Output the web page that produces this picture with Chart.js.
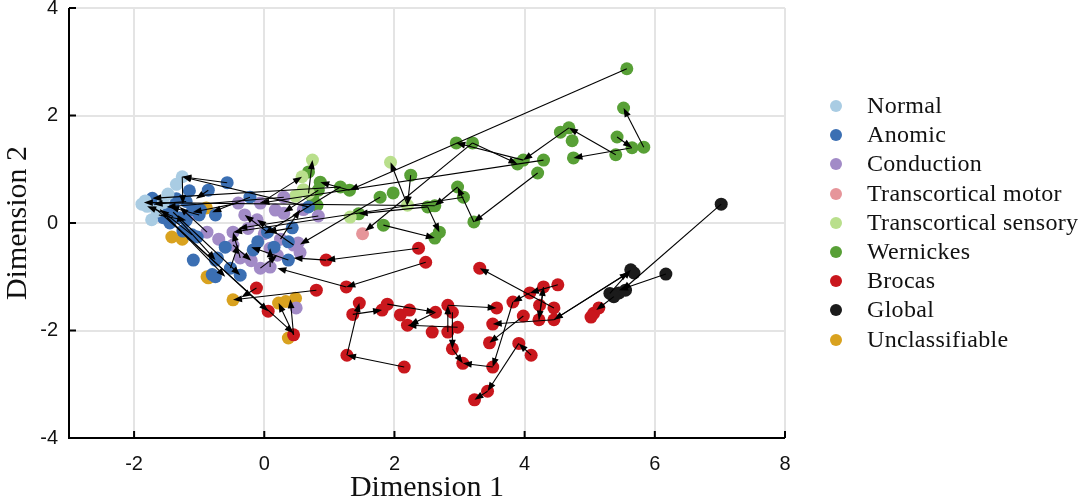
<!DOCTYPE html>
<html>
<head>
<meta charset="utf-8">
<script src="https://cdn.jsdelivr.net/npm/chart.js@4.4.1/dist/chart.umd.min.js"></script>
<style>
  html, body { margin: 0; padding: 0; background: #fff; }
  #wrap { position: relative; width: 1084px; height: 503px; }
  #legend { position: absolute; left: 828px; top: 91px; font-family: "Liberation Serif", "DejaVu Serif", serif; font-size: 24px; letter-spacing: 0.3px; color: #111; }
  #legend div { height: 29.2px; line-height: 29.2px; white-space: nowrap; }
  #legend span.dot { display: inline-block; width: 12px; height: 12px; border-radius: 50%; margin: 0 25px 0 2px; vertical-align: 1px; }
</style>
</head>
<body>
<div id="wrap">
  <canvas id="mapChart" width="1084" height="503"></canvas>
  <div id="legend"></div>
</div>
<script>
// ---- data ----
const categories = ["Normal", "Anomic", "Conduction", "Transcortical motor",
    "Transcortical sensory", "Wernickes", "Brocas", "Global", "Unclassifiable"];

const normalPts = [[-1.83, 0.41], [-1.80, 0.31], [-1.26, 0.86], [-1.48, 0.54], [-1.73, 0.06],
    [-1.65, 0.22], [-1.55, 0.38], [-1.35, 0.72], [-1.88, 0.35]];

const anomicPts = [[-1.72, 0.46], [-1.60, 0.35], [-1.50, 0.20], [-1.40, 0.30], [-1.30, 0.10],
    [-1.20, 0.40], [-1.10, 0.25], [-1.00, 0.15], [-0.57, 0.75], [-0.86, 0.61], [-0.22, 0.48],
    [-1.11, -0.22], [-1.03, -0.26], [-1.09, -0.69], [-0.75, -0.69], [-0.52, -0.84], [-0.37, -0.97],
    [-0.75, -1.00], [-0.80, -0.96], [0.43, -0.09], [0.05, -0.17], [0.37, -0.35], [0.37, -0.69],
    [-0.17, -0.50], [-0.72, -0.65], [-0.60, -0.45], [0.68, 0.30], [-0.98, 0.24], [-0.75, 0.15],
    [-1.45, 0.00], [-1.25, -0.15], [-1.55, 0.10], [-1.35, 0.45], [-1.15, 0.60], [-0.10, -0.35],
    [0.15, -0.45], [-1.62, 0.15], [-1.40, 0.12], [-1.20, 0.05]];

const conductionPts = [[-0.40, 0.37], [-0.06, 0.37], [0.17, 0.24], [0.30, 0.48], [0.83, 0.13],
    [-0.11, 0.06], [-0.48, -0.17], [-0.48, -0.41], [-0.37, -0.65], [0.09, -0.47], [0.45, -0.41],
    [0.52, -0.37], [0.09, -0.82], [-0.06, -0.84], [0.20, -0.60], [-0.88, -0.17], [-1.14, 0.15],
    [0.49, -1.58], [0.00, -0.20], [-0.25, -0.10], [-0.30, 0.15], [0.60, 0.25], [0.25, -0.30],
    [-0.20, -0.70], [0.30, 0.18], [0.55, -0.55], [-0.70, -0.30]];

const tcMotorPts = [[1.51, -0.20]];

const tcSensoryPts = [[0.74, 1.17], [1.94, 1.13], [2.20, 0.33], [1.32, 0.11], [0.58, 0.86],
    [0.60, 0.62], [0.68, 0.55], [0.48, 0.50]];

const wernickesPts = [[5.57, 2.87], [5.52, 2.14], [5.83, 1.41], [5.65, 1.40], [5.42, 1.60],
    [5.40, 1.27], [4.75, 1.21], [4.68, 1.77], [4.55, 1.69], [4.73, 1.53], [4.29, 1.17],
    [4.20, 0.93], [3.98, 1.17], [3.89, 1.10], [3.20, 1.49], [2.95, 1.49], [2.97, 0.67],
    [3.06, 0.48], [3.22, 0.02], [2.69, -0.17], [2.62, -0.28], [2.51, 0.30], [2.62, 0.32],
    [2.25, 0.89], [1.98, 0.56], [1.83, -0.04], [1.78, 0.48], [1.31, 0.61], [1.17, 0.67],
    [0.86, 0.76], [0.81, 0.33], [0.83, 0.61], [0.68, 0.95], [1.45, 0.17], [0.75, 0.45]];

const brocasPts = [[2.37, -0.47], [2.48, -0.73], [0.95, -0.69], [1.26, -1.19], [0.80, -1.25],
    [-0.12, -1.21], [0.06, -1.64], [0.45, -2.08], [1.46, -1.49], [1.36, -1.70], [1.27, -2.46],
    [2.15, -2.68], [1.81, -1.62], [1.89, -1.51], [2.09, -1.71], [2.23, -1.62], [2.20, -1.90],
    [2.63, -1.66], [2.58, -2.03], [2.82, -1.53], [2.89, -1.66], [2.82, -2.03], [2.97, -1.94],
    [2.89, -2.34], [3.05, -2.61], [3.51, -2.68], [3.57, -1.58], [3.51, -1.88], [3.46, -2.23],
    [3.31, -0.84], [3.43, -3.13], [3.23, -3.29], [3.82, -1.47], [3.98, -1.73], [4.08, -1.30],
    [4.29, -1.19], [4.51, -1.15], [4.23, -1.53], [4.22, -1.80], [4.45, -1.58], [4.45, -1.80],
    [3.91, -2.24], [4.10, -2.46], [5.06, -1.68], [5.14, -1.58], [5.02, -1.75]];

const globalPts = [[7.02, 0.35], [6.17, -0.95], [5.63, -0.87], [5.68, -0.93], [5.55, -1.25],
    [5.45, -1.30], [5.31, -1.31], [5.37, -1.37]];

const unclassPts = [[-0.48, -1.43], [0.22, -1.49], [0.33, -1.46], [0.48, -1.40], [0.37, -2.14],
    [-0.88, -1.00], [-1.42, -0.26], [-1.26, -0.30], [-0.89, 0.28], [-0.86, -1.02]];

// each arrow: [fromX, fromY, toX, toY]
const arrows = [
    [5.57, 2.87, 1.31, 0.61], [5.83, 1.41, 5.52, 2.14], [5.42, 1.60, 5.65, 1.40],
    [5.40, 1.27, 4.68, 1.77], [5.65, 1.40, 4.75, 1.21], [4.68, 1.77, 3.98, 1.17],
    [3.98, 1.17, 2.95, 1.49], [3.20, 1.49, 3.89, 1.10], [4.20, 0.93, 3.22, 0.02],
    [3.20, 1.49, 1.55, -0.15], [4.29, 1.17, -0.06, 0.37], [3.22, 0.02, 2.97, 0.67],
    [2.97, 0.67, 2.62, 0.32], [2.51, 0.30, 2.69, -0.17], [1.83, -0.04, 2.62, -0.28],
    [2.25, 0.89, 2.20, 0.33], [2.20, 0.33, 1.94, 1.13], [2.51, 0.30, 1.45, 0.17],
    [1.31, 0.61, 0.86, 0.76], [3.06, 0.48, -0.48, -0.17], [1.78, 0.48, 0.55, -0.40],
    [2.62, 0.32, -1.85, 0.38], [1.17, 0.67, -1.72, 0.46], [0.68, 0.55, 0.74, 1.17],
    [-0.06, 0.37, 0.58, 0.86], [0.83, 0.61, 0.30, 0.20], [1.17, 0.67, 0.00, -0.20],
    [2.37, -0.47, 0.95, -0.69], [2.48, -0.73, 1.26, -1.19], [1.26, -1.19, 0.20, -0.84],
    [0.80, -1.25, -0.48, -1.43], [-0.12, -1.21, -0.35, -1.38], [0.45, -2.08, 0.22, -1.49],
    [0.45, -2.08, 0.40, -1.42], [0.95, -0.69, 0.45, -0.65], [2.15, -2.68, 1.27, -2.46],
    [1.27, -2.46, 1.46, -1.49], [1.36, -1.70, 1.81, -1.62], [1.89, -1.51, 2.63, -1.66],
    [2.63, -1.66, 2.23, -1.90], [2.97, -1.94, 2.20, -1.90], [2.82, -1.53, 3.57, -1.58],
    [2.82, -2.03, 2.82, -1.53], [2.89, -1.66, 2.89, -2.34], [2.89, -2.34, 3.05, -2.61],
    [3.51, -2.68, 3.05, -2.61], [3.82, -1.47, 3.51, -2.68], [3.98, -1.73, 3.46, -2.23],
    [4.45, -1.80, 3.51, -1.88], [4.08, -1.30, 3.82, -1.47], [4.45, -1.58, 3.31, -0.84],
    [4.51, -1.15, 4.08, -1.30], [4.29, -1.19, 4.22, -1.80], [4.22, -1.80, 4.29, -1.19],
    [3.91, -2.24, 3.43, -3.13], [4.10, -2.46, 3.91, -2.24], [3.43, -3.13, 3.23, -3.29],
    [5.60, -0.92, 4.45, -1.80], [4.45, -1.80, 5.60, -0.92],
    [7.02, 0.35, 5.50, -1.25], [6.17, -0.95, 5.45, -1.25], [5.37, -1.37, 5.10, -1.62],
    [5.31, -1.31, 5.63, -0.87],
    [-0.57, 0.75, -1.26, 0.86], [0.68, 0.30, -1.26, 0.86], [-1.26, 0.86, -1.25, 0.35],
    [-0.86, 0.61, -1.05, 0.45], [0.30, 0.48, -1.50, 0.30], [-1.60, 0.25, -0.60, -1.00],
    [-1.50, 0.10, 0.06, -1.64], [-1.70, 0.30, 0.45, -2.05], [-1.40, 0.20, -0.37, -0.97],
    [-1.30, 0.05, -0.75, -0.69], [-0.22, 0.48, -0.80, 0.20], [-0.40, 0.37, -1.10, 0.20],
    [0.83, 0.13, -0.40, -0.10], [0.45, -0.41, -0.11, 0.06], [-0.37, -0.65, -0.48, -0.17],
    [0.09, -0.82, 0.09, -0.47], [-0.06, -0.84, 0.20, -0.60], [0.37, -0.69, -0.20, -0.45],
    [-0.52, -0.84, -0.40, -0.40], [0.43, -0.09, 0.05, -0.17], [0.05, -0.17, -0.30, 0.15],
    [-0.88, -0.17, -1.30, 0.30], [-1.11, -0.22, -1.60, 0.25], [-0.48, -0.41, -0.20, -0.70],
    [0.25, -0.30, 0.55, 0.25], [-1.00, 0.15, -1.45, 0.30], [-1.20, 0.40, -1.70, 0.35],
    [-1.62, 0.15, -1.20, 0.05], [-1.40, 0.12, -1.80, 0.31]
];

const xTickValues = [-2, 0, 2, 4, 6, 8];
const yTickValues = [-4, -2, 0, 2, 4];

// ---- styles ----
const pointColors = ["#a9cce3", "#3b6fb3", "#a28bc7", "#e6959a", "#b9df8c",
    "#58a036", "#c9171d", "#1b1b1b", "#d9a21f"];
const groups = [normalPts, anomicPts, conductionPts, tcMotorPts, tcSensoryPts,
    wernickesPts, brocasPts, globalPts, unclassPts];

const datasets = categories.map((name, i) => ({
    label: name,
    data: groups[i].map(p => ({ x: p[0], y: p[1] })),
    backgroundColor: pointColors[i],
    borderWidth: 0,
    pointRadius: 6.5,
    pointHoverRadius: 6.5
}));

// arrows and the inward-tick axes drawn on top of the points
const arrowPlugin = {
    id: "arrowPlugin",
    afterDatasetsDraw(chart) {
        const ctx = chart.ctx;
        const xs = chart.scales.x;
        const ys = chart.scales.y;
        ctx.save();
        ctx.strokeStyle = "#000";
        ctx.fillStyle = "#000";
        ctx.lineWidth = 1.1;
        arrows.forEach(a => {
            const x1 = xs.getPixelForValue(a[0]);
            const y1 = ys.getPixelForValue(a[1]);
            const x2 = xs.getPixelForValue(a[2]);
            const y2 = ys.getPixelForValue(a[3]);
            const ang = Math.atan2(y2 - y1, x2 - x1);
            const len = 9, half = 3.4;
            ctx.beginPath();
            ctx.moveTo(x1, y1);
            ctx.lineTo(x2 - Math.cos(ang) * len * 0.8, y2 - Math.sin(ang) * len * 0.8);
            ctx.stroke();
            ctx.beginPath();
            ctx.moveTo(x2, y2);
            ctx.lineTo(x2 - Math.cos(ang) * len - Math.sin(ang) * half,
                       y2 - Math.sin(ang) * len + Math.cos(ang) * half);
            ctx.lineTo(x2 - Math.cos(ang) * len + Math.sin(ang) * half,
                       y2 - Math.sin(ang) * len - Math.cos(ang) * half);
            ctx.closePath();
            ctx.fill();
        });
        ctx.restore();
    },
    afterDraw(chart) {
        const ctx = chart.ctx;
        const area = chart.chartArea;
        const xs = chart.scales.x;
        const ys = chart.scales.y;
        ctx.save();
        ctx.strokeStyle = "#000";
        ctx.lineWidth = 2;
        ctx.beginPath();
        ctx.moveTo(area.left, area.top);
        ctx.lineTo(area.left, area.bottom);
        ctx.lineTo(area.right, area.bottom);
        ctx.stroke();
        ctx.beginPath();
        xTickValues.forEach(v => {
            const px = xs.getPixelForValue(v);
            ctx.moveTo(px, area.bottom);
            ctx.lineTo(px, area.bottom - 7);
        });
        yTickValues.forEach(v => {
            const py = ys.getPixelForValue(v);
            ctx.moveTo(area.left, py);
            ctx.lineTo(area.left + 7, py);
        });
        ctx.stroke();
        ctx.restore();
    }
};

const tickFont = { family: "'Liberation Sans Narrow', 'Liberation Sans', sans-serif", size: 20 };
const titleFont = { family: "'Liberation Serif', 'DejaVu Serif', serif", size: 30, lineHeight: 1.0 };

new Chart(document.getElementById("mapChart"), {
    type: "scatter",
    data: { datasets: datasets },
    options: {
        responsive: false,
        animation: false,
        layout: { padding: { top: 8, right: 299, left: 0, bottom: 0 } },
        plugins: { legend: { display: false }, tooltip: { enabled: false } },
        scales: {
            x: {
                type: "linear", min: -3, max: 8,
                afterBuildTicks: s => { s.ticks = xTickValues.map(v => ({ value: v })); },
                afterFit: s => { s.height = 65; s.paddingLeft = 0; s.paddingRight = 0; },
                grid: { color: "#e4e4e4", lineWidth: 2, drawTicks: false },
                border: { display: false },
                ticks: { font: tickFont, color: "#111", padding: 14, maxRotation: 0 },
                title: { display: true, text: "Dimension 1", font: titleFont, color: "#111",
                         padding: { top: 0, bottom: 0 } }
            },
            y: {
                type: "linear", min: -4, max: 4,
                afterBuildTicks: s => { s.ticks = yTickValues.map(v => ({ value: v })); },
                afterFit: s => { s.width = 69; s.paddingTop = 0; s.paddingBottom = 0; },
                grid: { color: "#e4e4e4", lineWidth: 2, drawTicks: false },
                border: { display: false },
                ticks: { font: tickFont, color: "#111", padding: 11 },
                title: { display: true, text: "Dimension 2", font: titleFont, color: "#111",
                         padding: { top: 3, bottom: 3 } }
            }
        }
    },
    plugins: [arrowPlugin]
});

// legend built from the same category list
const legendBox = document.getElementById("legend");
categories.forEach((name, i) => {
    const row = document.createElement("div");
    const dot = document.createElement("span");
    dot.className = "dot";
    dot.style.background = pointColors[i];
    row.appendChild(dot);
    row.appendChild(document.createTextNode(name));
    legendBox.appendChild(row);
});
</script>
</body>
</html>
